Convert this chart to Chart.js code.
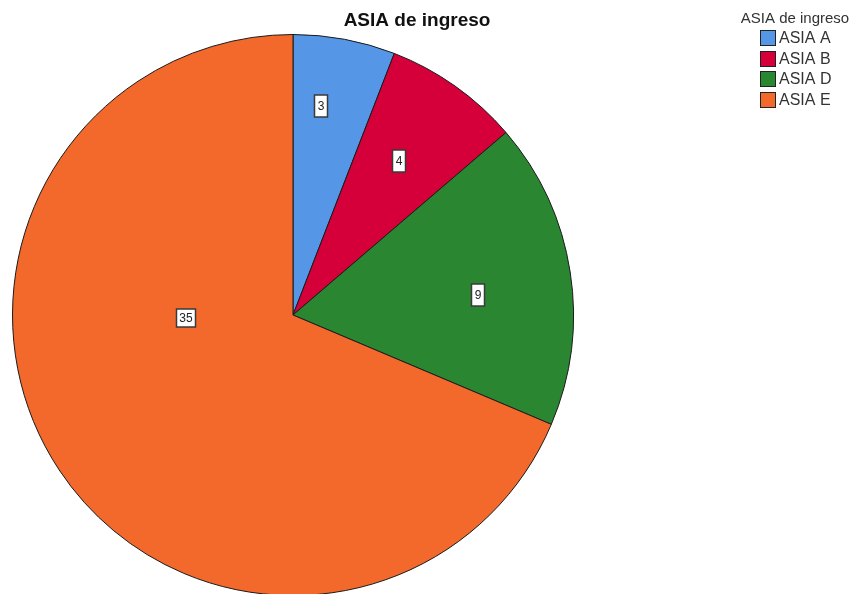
<!DOCTYPE html>
<html>
<head>
<meta charset="utf-8">
<script src="https://cdn.jsdelivr.net/npm/chart.js@4"></script>
<style>
  html, body { margin: 0; padding: 0; background: #fff; overflow: hidden; }
  canvas { display: block; }
</style>
</head>
<body>
<canvas id="grafico" width="853" height="600"></canvas>
<script>
const titulo = 'ASIA de ingreso';
const categorias = ['ASIA A', 'ASIA B', 'ASIA D', 'ASIA E'];
const conteos = [3, 4, 9, 35];
const colores = ['#5596E6', '#D5003A', '#2A8630', '#F3692B'];

// where each count label sits inside its slice: share of the slice angle, share of the radius
const posEtiquetas = [[0.36, 0.75], [0.47, 0.665], [0.54, 0.665], [0.63, 0.38]];

const etiquetas = {
  id: 'etiquetas',
  afterDatasetsDraw(chart) {
    const c = chart.ctx;
    const arcos = chart.getDatasetMeta(0).data;
    c.save();
    c.font = '12px "Liberation Sans", Arial, sans-serif';
    c.textAlign = 'center';
    c.textBaseline = 'middle';
    arcos.forEach((arc, i) => {
      const [fa, fr] = posEtiquetas[i];
      const ang = arc.startAngle + (arc.endAngle - arc.startAngle) * fa;
      const r = arc.outerRadius * fr;
      const x = Math.round(arc.x + Math.cos(ang) * r);
      const y = Math.round(arc.y + Math.sin(ang) * r);
      const txt = String(chart.data.datasets[0].data[i]);
      const w = Math.round(c.measureText(txt).width) + 6;
      const h = txt.length > 1 ? 18 : 22;
      c.fillStyle = '#fff';
      c.fillRect(x - w / 2, y - h / 2, w, h);
      c.strokeStyle = '#3a3a3a';
      c.lineWidth = 1.5;
      c.strokeRect(x - w / 2, y - h / 2, w, h);
      c.fillStyle = '#222';
      c.fillText(txt, x, y + 1);
    });
    c.restore();
  }
};

const leyenda = {
  id: 'leyenda',
  afterDraw(chart) {
    const c = chart.ctx;
    c.save();
    // chart title
    c.font = 'bold 19px "Liberation Sans", Arial, sans-serif';
    c.fillStyle = '#111';
    c.textAlign = 'center';
    c.textBaseline = 'middle';
    c.fillText(titulo, 417, 21);
    // legend block
    c.font = '15px "Liberation Sans", Arial, sans-serif';
    c.fillStyle = '#333';
    c.fillText(titulo, 795, 19);
    c.textAlign = 'left';
    c.font = '16px "Liberation Sans", Arial, sans-serif';
    chart.data.labels.forEach((lab, i) => {
      const y = Math.round(30 + i * 20.5);
      c.fillStyle = chart.data.datasets[0].backgroundColor[i];
      c.fillRect(760, y, 16, 16);
      c.strokeStyle = '#222';
      c.lineWidth = 1;
      c.strokeRect(760.5, y + 0.5, 15, 15);
      c.fillStyle = '#333';
      c.fillText(lab, 779, y + 9);
    });
    c.restore();
  }
};

new Chart(document.getElementById('grafico'), {
  type: 'pie',
  data: {
    labels: categorias,
    datasets: [{
      data: conteos,
      backgroundColor: colores,
      borderColor: '#1a1a1a',
      borderWidth: 1
    }]
  },
  options: {
    responsive: false,
    animation: false,
    devicePixelRatio: 1,
    layout: { padding: { left: 12, top: 34, right: 279, bottom: 4 } },
    plugins: {
      legend: { display: false },
      tooltip: { enabled: false },
      title: { display: false }
    }
  },
  plugins: [etiquetas, leyenda]
});
</script>
</body>
</html>
